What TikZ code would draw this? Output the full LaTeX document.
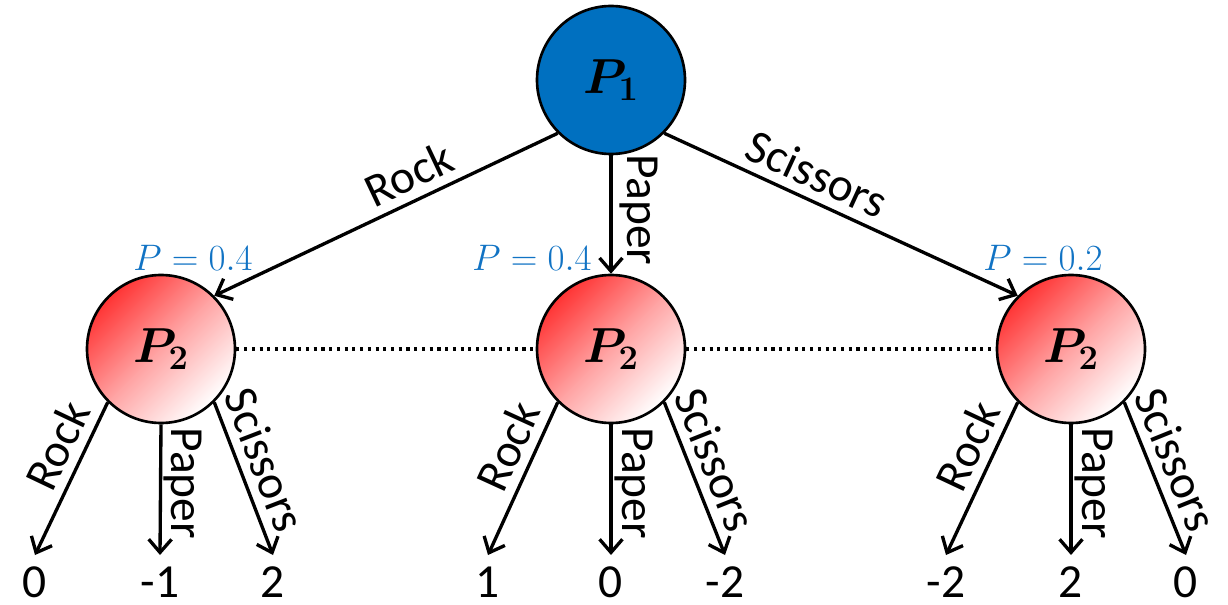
\RequirePackage{fix-cm}
\documentclass[tikz,border=0pt]{standalone}
\usepackage{fontspec}
\setmainfont{Carlito}
\usepackage{tikz}
\usetikzlibrary{arrows.meta, positioning, calc}

\definecolor{p1blue}{HTML}{0070C0}
\definecolor{p2red}{HTML}{FF3434}
\definecolor{probblue}{HTML}{1173C4}

\begin{document}
\begin{tikzpicture}[
  player/.style={circle, draw, line width=1.5pt, minimum size=2.96cm, inner sep=0pt, font=\fontsize{28}{30}\selectfont\boldmath},
  p2/.style={player, top color=p2red, bottom color=white, middle color=p2red!45!white, shading angle=45},
  move/.style={-{Straight Barb[length=7.5pt, width=13pt]}, line width=1.9pt},
  lbl/.style={font=\fontsize{27}{30}\selectfont, sloped, above, inner sep=5pt},
  vlbl/.style={font=\fontsize{27}{30}\selectfont, rotate=-90, anchor=south, inner sep=1pt},
  prob/.style={text=probblue, font=\fontsize{21}{24}\selectfont},
  payoff/.style={font=\fontsize{27}{30}\selectfont, anchor=north, inner sep=0pt, text height=24pt, text depth=0pt},
  infoset/.style={line width=1.8pt, dash pattern=on 1.8pt off 2.6pt}
]
\useasboundingbox (0,0) rectangle (24.56,12.08);

% players
\node[player, fill=p1blue] (p1) at (12.22,10.48) {$P_1$};
\node[p2] (p2a) at (3.22,5.10) {$P_2$};
\node[p2] (p2b) at (12.22,5.10) {$P_2$};
\node[p2] (p2c) at (21.42,5.10) {$P_2$};

% chance of each move
\node[prob] (pra) at (3.86,6.92) {$P=0.4$};
\node[prob] (prb) at (10.64,6.92) {$P=0.4$};
\node[prob] (prc) at (20.86,6.92) {$P=0.2$};

% payoffs
\node[payoff] (a1) at (0.70,0.98) {0};
\node[payoff] (a2) at (3.20,0.98) {-1};
\node[payoff] (a3) at (5.46,0.98) {2};
\node[payoff] (b1) at (9.76,0.98) {1};
\node[payoff] (b2) at (12.22,0.98) {0};
\node[payoff] (b3) at (14.50,0.98) {-2};
\node[payoff] (c1) at (18.92,0.98) {-2};
\node[payoff] (c2) at (21.42,0.98) {2};
\node[payoff] (c3) at (23.72,0.98) {0};

% moves of P1
\draw[move] (p1.225) -- node[lbl, pos=0.40] {Rock} (p2a.45);
\draw[move] (p1.south) -- node[vlbl, pos=0.46, inner sep=4pt] {Paper} (p2b.north);
\draw[move] (p1.-45) -- node[lbl, pos=0.40] {Scissors} (p2c.135);

% information set
\draw[infoset] (p2a.east) -- (p2b.west);
\draw[infoset] (p2b.east) -- (p2c.west);

% moves of P2
\draw[move] (p2a.225) -- node[lbl, pos=0.36] {Rock} (a1.north);
\draw[move] (p2a.south) -- node[vlbl, pos=0.45] {Paper} (a2.north);
\draw[move] (p2a.-45) -- node[lbl, pos=0.44] {Scissors} (a3.north);
\draw[move] (p2b.225) -- node[lbl, pos=0.36] {Rock} (b1.north);
\draw[move] (p2b.south) -- node[vlbl, pos=0.45] {Paper} (b2.north);
\draw[move] (p2b.-45) -- node[lbl, pos=0.44] {Scissors} (b3.north);
\draw[move] (p2c.225) -- node[lbl, pos=0.36] {Rock} (c1.north);
\draw[move] (p2c.south) -- node[vlbl, pos=0.45] {Paper} (c2.north);
\draw[move] (p2c.-45) -- node[lbl, pos=0.44] {Scissors} (c3.north);

\end{tikzpicture}
\end{document}
